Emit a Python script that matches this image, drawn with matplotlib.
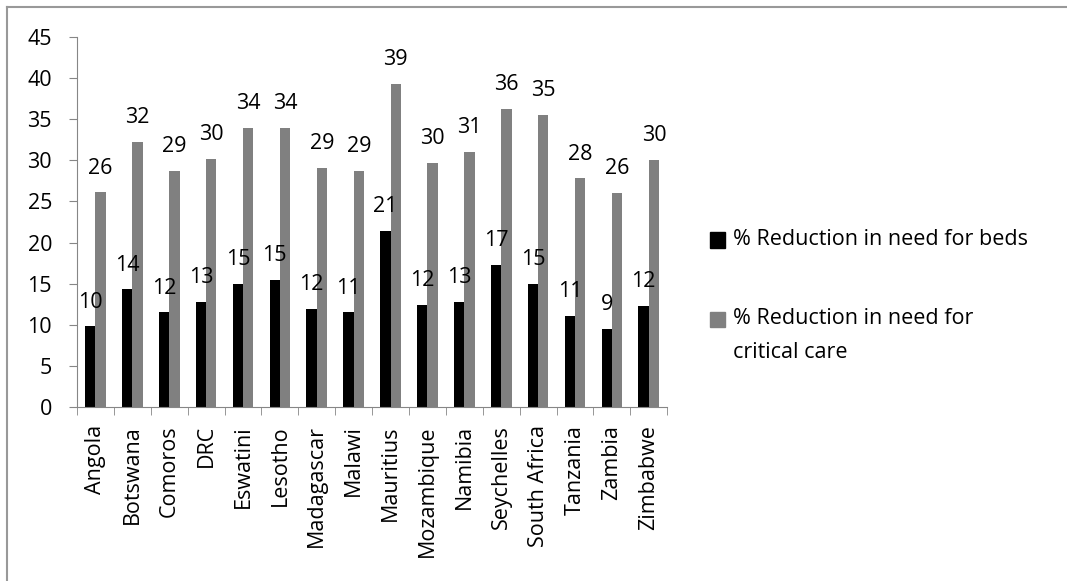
import numpy as np
import matplotlib
matplotlib.use("Agg")
import matplotlib.pyplot as plt
from matplotlib.patches import Rectangle
from matplotlib.lines import Line2D

plt.rcParams['font.family'] = ['Open Sans', 'DejaVu Sans']

# Datos
countries = ['Angola', 'Botswana', 'Comoros', 'DRC', 'Eswatini', 'Lesotho',
             'Madagascar', 'Malawi', 'Mauritius', 'Mozambique', 'Namibia',
             'Seychelles', 'South Africa', 'Tanzania', 'Zambia', 'Zimbabwe']
beds = [9.8, 14.3, 11.5, 12.8, 15.0, 15.4, 11.9, 11.5, 21.4, 12.4, 12.8,
        17.3, 15.0, 11.1, 9.5, 12.3]
critical = [26.1, 32.2, 28.7, 30.2, 33.9, 33.9, 29.1, 28.7, 39.3, 29.7, 31.0,
            36.3, 35.5, 27.8, 26.0, 30.0]
labels_beds = ['10', '14', '12', '13', '15', '15', '12', '11', '21', '12', '13',
               '17', '15', '11', '9', '12']
labels_critical = ['26', '32', '29', '30', '34', '34', '29', '29', '39', '30', '31',
                   '36', '35', '28', '26', '30']
legend_labels = ['% Reduction in need for beds', '% Reduction in need for\ncritical care']

c_beds = '#000000'
c_crit = '#808080'
axis_grey = '#868686'
fs = 15.5

fig = plt.figure(figsize=(10.67, 5.81), dpi=100)
ax = fig.add_axes([0.0722, 0.2995, 0.5531, 0.6368])

x = np.arange(len(countries))
w = 0.28
b1 = ax.bar(x - w / 2, beds, w, color=c_beds)
b2 = ax.bar(x + w / 2, critical, w, color=c_crit)

# Etiquetas de valores encima de cada barra
for rect, lab in zip(b1, labels_beds):
    ax.annotate(lab, (rect.get_x() + rect.get_width() / 2, rect.get_height()),
                xytext=(0, 10), textcoords='offset points',
                ha='center', va='bottom', fontsize=fs)
for rect, lab in zip(b2, labels_critical):
    ax.annotate(lab, (rect.get_x() + rect.get_width() / 2, rect.get_height()),
                xytext=(0, 10), textcoords='offset points',
                ha='center', va='bottom', fontsize=fs)

ax.set_xlim(-0.5, len(countries) - 0.5)
ax.set_ylim(0, 45)
ax.set_yticks(range(0, 46, 5))
ax.set_xticks(x)
ax.set_xticklabels(countries, rotation=90, fontsize=fs)
ax.set_xticks(np.arange(-0.5, len(countries)), minor=True)
ax.tick_params(axis='x', which='major', length=0, pad=13)
ax.tick_params(axis='x', which='minor', length=6, color=axis_grey, direction='out')
ax.tick_params(axis='y', length=6, color=axis_grey, labelsize=fs, pad=12)
for s in ['top', 'right']:
    ax.spines[s].set_visible(False)
for s in ['left', 'bottom']:
    ax.spines[s].set_color(axis_grey)

# Leyenda dibujada a mano para alinear el cuadrado con la primera linea
W, H = 1067, 581
sq = 15
for i, (col, lab) in enumerate(zip([c_beds, c_crit], legend_labels)):
    yc = [240, 319][i]
    fig.patches.append(Rectangle((710 / W, 1 - (yc + sq / 2) / H), sq / W, sq / H,
                                 transform=fig.transFigure, color=col))
    for j, line in enumerate(lab.split('\n')):
        fig.text(733 / W, 1 - (yc + 34 * j) / H, line, fontsize=fs,
                 ha='left', va='center')

# Marco de la figura
fig.lines.append(Line2D([7 / W, 1], [1 - 7 / H, 1 - 7 / H], transform=fig.transFigure,
                        color='#999999', lw=1.5))
fig.lines.append(Line2D([7 / W, 7 / W], [0, 1 - 7 / H], transform=fig.transFigure,
                        color='#999999', lw=1.5))

fig.savefig('out.png', dpi=100)
